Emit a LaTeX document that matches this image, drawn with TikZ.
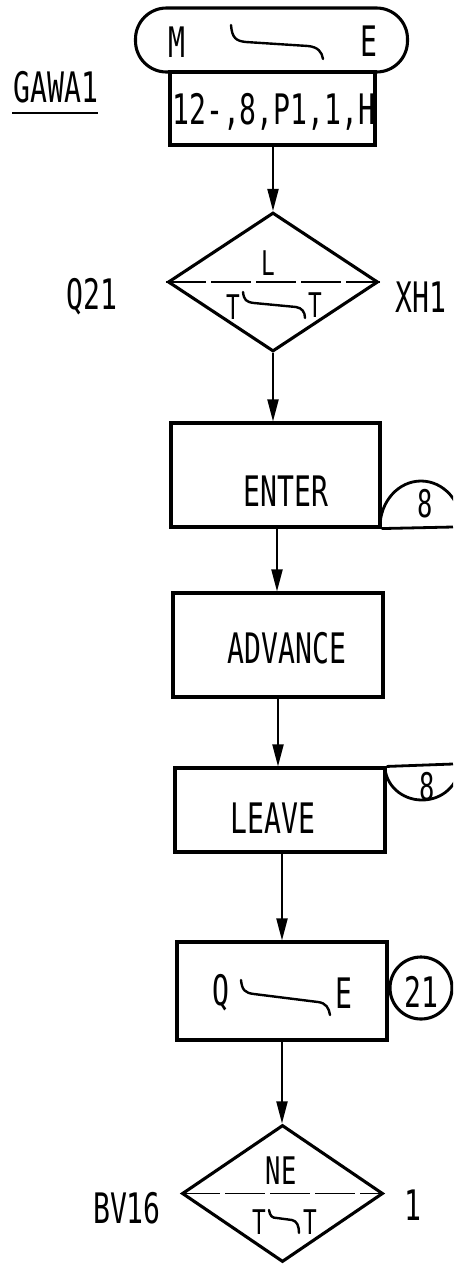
\documentclass[tikz,border=0pt]{standalone}
\usepackage{fontspec}
\setmainfont[FakeStretch=0.67]{DejaVu Sans Mono}
\usetikzlibrary{arrows.meta,shapes.geometric}

\tikzset{
  outline/.style={draw, line width=3.1pt, inner sep=0pt},
  blockbox/.style={outline, rectangle},
  decision/.style={outline, diamond},
  bigtxt/.style={inner sep=0pt, font=\fontsize{42}{42}\selectfont},
  midtxt/.style={inner sep=0pt, font=\fontsize{38}{38}\selectfont},
  smalltxt/.style={inner sep=0pt, font=\fontsize{34}{34}\selectfont},
  flow/.style={line width=2pt, -{Triangle[length=22pt,width=11pt]}},
  tilde/.style={line width=2.4pt, line cap=round},
  splitline/.style={line width=1.6pt, dash pattern=on 40pt off 5pt},
  conn/.style={line width=2.8pt}
}

\begin{document}
\begin{tikzpicture}[x=1pt,y=-1pt]
\useasboundingbox (0,0) rectangle (453,1264);
\clip (0,0) rectangle (453,1264);

% ---- GENERATE block: terminal and operand box ----
\node[outline, rectangle, rounded corners=31pt, minimum width=272pt, minimum height=64pt] (gen) at (271.5,40) {};
\node[bigtxt] (genM) at (177,42) {M};
\node[bigtxt] (genE) at (369,41) {E};
\draw[tilde] (231,25) .. controls (232,38) and (236,41) .. (246,42) -- (308,46) .. controls (318,47) and (322,52) .. (323,59);

\node[blockbox, minimum width=205pt, minimum height=73pt] (opnd) at (272.5,108.5) {};
\begin{scope}
  \clip (171.5,73) rectangle (373.5,144);
  \node[bigtxt, anchor=west] (opndtxt) at (172,112) {12-,8,P1,1,H};
\end{scope}

\node[bigtxt] (gawa) at (56,87) {GAWA1};
\draw[line width=2.2pt] (gawa.south west) ++(-1,10) coordinate (ulA) -- ++(86,0);

% ---- TRANSFER decision ----
\node[decision, minimum width=210pt, minimum height=139pt] (trans) at (273,282) {};
\draw[splitline] (trans.west) -- (trans.east);
\node[smalltxt] (transL) at (268,263) {L};
\node[smalltxt] (transT1) at (233,307) {T};
\node[smalltxt] (transT2) at (315,305) {T};
\draw[tilde] (243,292) .. controls (244,300) and (246,302) .. (254,303) -- (296,307) .. controls (302,308) and (305,312) .. (305,318);
\node[bigtxt] (q21) at (92,297) {Q21};
\node[bigtxt] (xh1) at (421,297) {XH1};

% ---- ENTER ----
\node[blockbox, minimum width=209pt, minimum height=104pt] (enter) at (275.5,475) {};
\node[bigtxt] (entertxt) at (286,491) {ENTER};
\draw[conn] (enter.south east) -- (453,527);
\begin{scope}
  \clip (enter.south east) rectangle (460,420);
  \draw[conn] (421,527) ellipse [x radius=41pt, y radius=46pt];
\end{scope}
\node[midtxt] (enter8) at (425,504) {8};

% ---- ADVANCE ----
\node[blockbox, minimum width=210pt, minimum height=104pt] (adv) at (278,645) {};
\node[bigtxt] (advtxt) at (287,648) {ADVANCE};

% ---- LEAVE ----
\node[blockbox, minimum width=210pt, minimum height=84pt] (leave) at (280,810) {};
\node[bigtxt] (leavetxt) at (273,818) {LEAVE};
\draw[conn] (leave.north east) -- (453,764);
\begin{scope}
  \clip (leave.north east) rectangle (460,830);
  \draw[conn] (422,766) ellipse [x radius=37pt, y radius=34pt];
\end{scope}
\node[midtxt] (leave8) at (427,787) {8};

% ---- QUEUE ----
\node[blockbox, minimum width=210pt, minimum height=98pt] (queue) at (282,991) {};
\node[bigtxt] (queueQ) at (221,993) {Q};
\node[bigtxt] (queueE) at (344,993) {E};
\draw[tilde] (241,980) .. controls (242,990) and (245,993) .. (254,994) -- (318,1002) .. controls (326,1003) and (329,1008) .. (330,1015);
\node[outline, circle, minimum size=62pt] (q21c) at (421,988) {};
\node[bigtxt] (q21ctxt) at (421,992) {21};

% ---- TEST decision ----
\node[decision, minimum width=201pt, minimum height=137pt] (test) at (282.5,1193.5) {};
\draw[splitline] (test.west) -- (test.east);
\node[midtxt] (testNE) at (281,1171) {NE};
\node[smalltxt] (testT1) at (259,1222) {T};
\node[smalltxt] (testT2) at (310,1222) {T};
\draw[tilde] (269,1210) .. controls (270,1216) and (272,1218) .. (277,1218) -- (292,1220) .. controls (297,1221) and (299,1226) .. (299,1233);
\node[bigtxt] (bv16) at (127,1208) {BV16};
\node[bigtxt] (one) at (413,1205) {1};

% ---- flow connectors ----
\draw[flow] (opnd.south -| trans.north) -- (trans.north);
\draw[flow] (trans.south) -- (trans.south |- enter.north);
\draw[flow] ([xshift=1.5pt]enter.south) -- ([xshift=1.5pt]enter.south |- adv.north);
\draw[flow] (adv.south) -- (adv.south |- leave.north);
\draw[flow] (leave.south -| queue.north) -- (queue.north);
\draw[flow] (queue.south) -- (queue.south |- test.north);
\end{tikzpicture}
\end{document}
